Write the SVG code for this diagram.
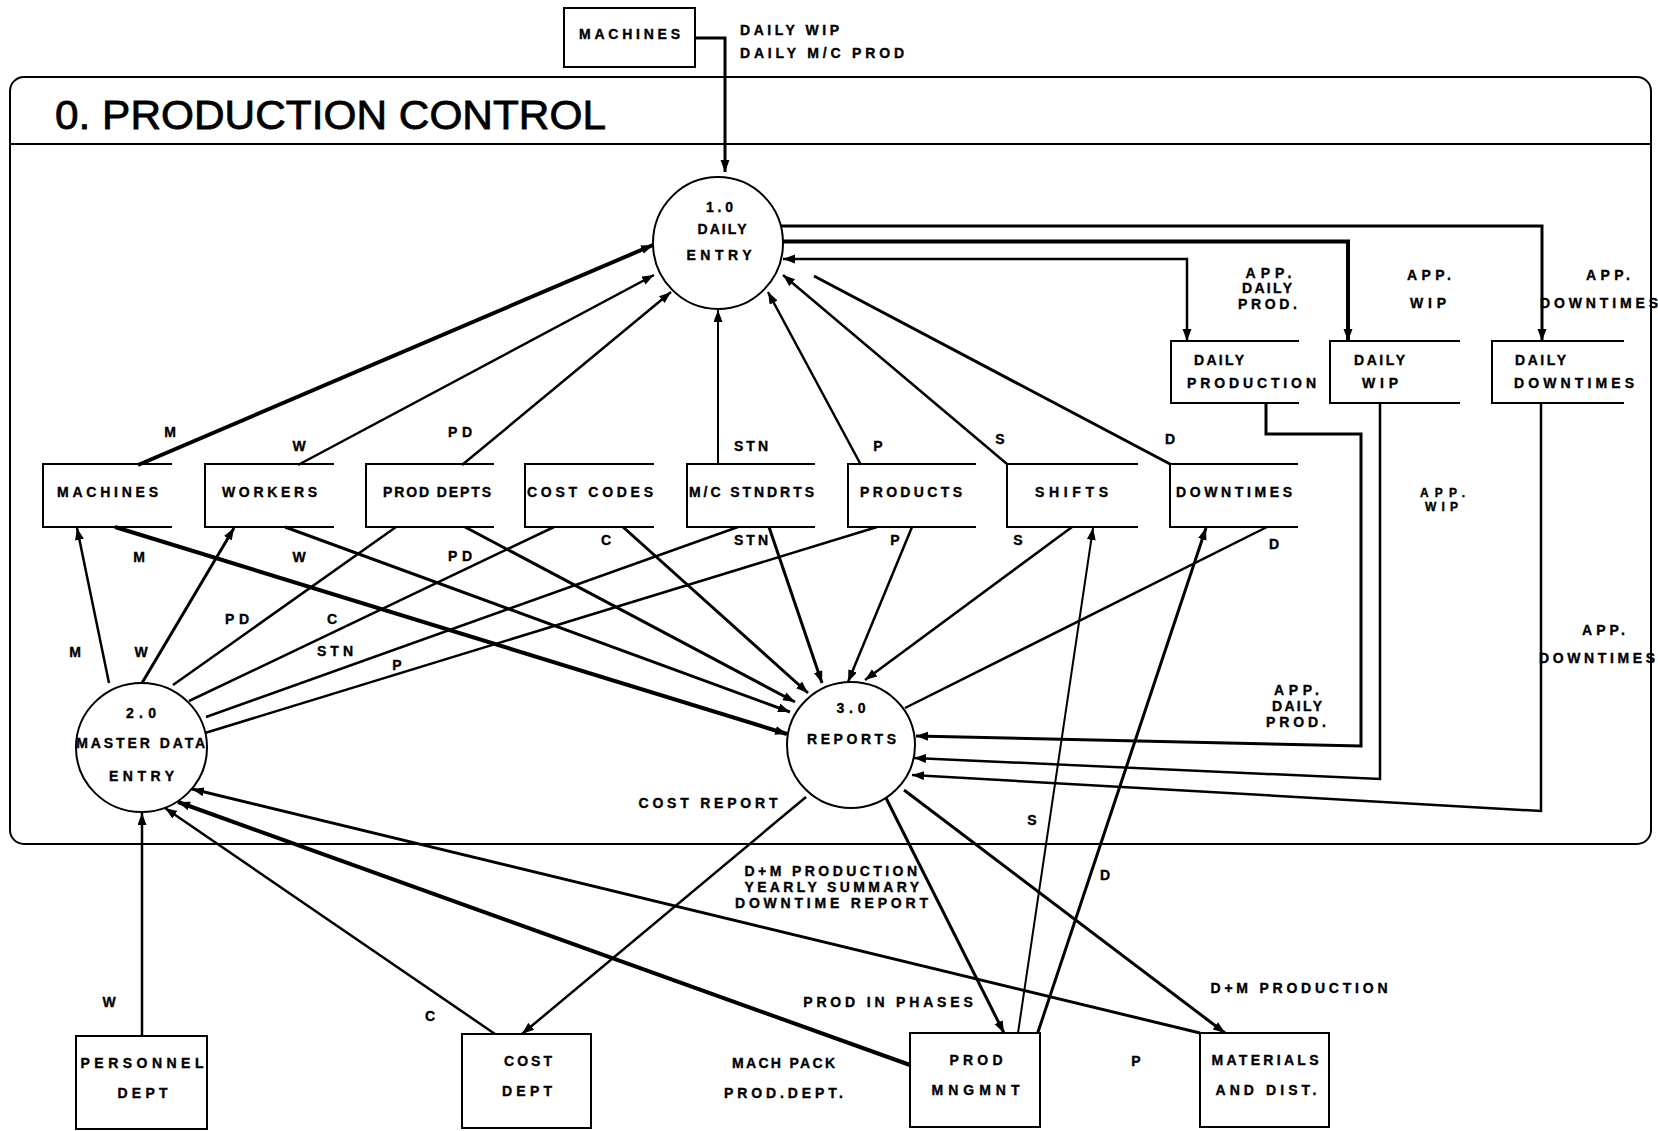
<svg xmlns="http://www.w3.org/2000/svg" width="1658" height="1131" viewBox="0 0 1658 1131">
  <style>
    .ln { fill: none; stroke: #000; stroke-linejoin: miter; stroke-linecap: butt; }
    .w2 { stroke-width: 2; }
    .w25 { stroke-width: 2.5; }
    .w3 { stroke-width: 3; }
    .w4 { stroke-width: 4; }
    .shape { fill: #fff; stroke: #000; stroke-width: 2; }
    .store { fill: none; stroke: #000; stroke-width: 2; }
    .t { font-family: "Liberation Sans", Arial, Helvetica, sans-serif; font-weight: bold; font-size: 14px; fill: #000; stroke: #000; stroke-width: 0.35; }
    .m { text-anchor: middle; }
    .sm { font-size: 12px; }
    .title { font-family: "Liberation Sans", Arial, Helvetica, sans-serif; font-size: 41px; fill: #000; stroke: #000; stroke-width: 0.8; }
  </style>
  <defs>
    <marker id="ah" markerUnits="userSpaceOnUse" markerWidth="14" markerHeight="10" refX="12" refY="4.5" orient="auto-start-reverse">
      <path d="M0,0 L12,4.5 L0,9 z" fill="#000"/>
    </marker>
  </defs>

  <rect width="1658" height="1131" fill="#fff"/>

  <!-- system boundary with title bar -->
  <g id="frame">
    <rect x="10" y="77" width="1641" height="767" rx="14" ry="14" fill="none" stroke="#000" stroke-width="2"/>
    <line x1="10" y1="144" x2="1651" y2="144" stroke="#000" stroke-width="2"/>
    <text class="title" x="55" y="129" textLength="551" lengthAdjust="spacingAndGlyphs">0. PRODUCTION CONTROL</text>
  </g>

  <g id="connectors">
    <!-- into 1.0 DAILY ENTRY -->
    <path class="ln w3" d="M695,38 H725 V172" marker-end="url(#ah)"/>
    <path class="ln w4" d="M138,465 L653,245" marker-end="url(#ah)"/>
    <path class="ln w25" d="M298,465 L654,275" marker-end="url(#ah)"/>
    <path class="ln w25" d="M462,465 L671,292" marker-end="url(#ah)"/>
    <path class="ln w2" d="M718,465 L718,310" marker-end="url(#ah)"/>
    <path class="ln w25" d="M861,465 L768,292" marker-end="url(#ah)"/>
    <path class="ln w25" d="M1007,464 L783,275" marker-end="url(#ah)"/>
    <path class="ln w3" d="M1170,464 L814,276"/>
    <!-- 1.0 to daily stores -->
    <path class="ln w3" d="M781,226 H1542 V341" marker-end="url(#ah)"/>
    <path class="ln w4" d="M783,241.5 H1348 V341" marker-end="url(#ah)"/>
    <path class="ln w25" d="M1187,341 V259 H783" marker-start="url(#ah)" marker-end="url(#ah)"/>
    <!-- stores into 3.0 REPORTS -->
    <path class="ln w4" d="M115,527 L787,734" marker-end="url(#ah)"/>
    <path class="ln w3" d="M285,527 L790,712" marker-end="url(#ah)"/>
    <path class="ln w3" d="M465,527 L795,702" marker-end="url(#ah)"/>
    <path class="ln w3" d="M623,527 L808,693" marker-end="url(#ah)"/>
    <path class="ln w3" d="M769,527 L822,683" marker-end="url(#ah)"/>
    <path class="ln w25" d="M912,527 L848,682" marker-end="url(#ah)"/>
    <path class="ln w25" d="M1072,527 L865,680" marker-end="url(#ah)"/>
    <path class="ln w25" d="M1267,527 L905,708"/>
    <!-- daily stores into 3.0 REPORTS -->
    <path class="ln w3" d="M1266,403 V434 H1361 V746 L916,736" marker-end="url(#ah)"/>
    <path class="ln w25" d="M1380,403 V779 L914,758" marker-end="url(#ah)"/>
    <path class="ln w25" d="M1541,403 V811 L912,775" marker-end="url(#ah)"/>
    <!-- 2.0 MASTER DATA ENTRY to master stores -->
    <path class="ln w25" d="M109,683 L77,528" marker-end="url(#ah)"/>
    <path class="ln w3" d="M142,683 L234,528" marker-end="url(#ah)"/>
    <path class="ln w25" d="M173,685 L396,527"/>
    <path class="ln w25" d="M189,701 L554,527"/>
    <path class="ln w25" d="M206,717 L738,527"/>
    <path class="ln w25" d="M205,733 L877,527"/>
    <!-- externals into 2.0 -->
    <path class="ln w25" d="M142,1036 L142,813" marker-end="url(#ah)"/>
    <path class="ln w25" d="M495,1034 L165,808" marker-end="url(#ah)"/>
    <path class="ln w4" d="M910,1065 L178,802" marker-end="url(#ah)"/>
    <path class="ln w3" d="M1200,1033 L192,789" marker-end="url(#ah)"/>
    <!-- 3.0 REPORTS to externals -->
    <path class="ln w25" d="M806,797 L522,1034" marker-end="url(#ah)"/>
    <path class="ln w3" d="M885,796 L1004,1033" marker-end="url(#ah)"/>
    <path class="ln w3" d="M904,790 L1225,1033" marker-end="url(#ah)"/>
    <!-- PROD MNGMNT to shift / downtime stores -->
    <path class="ln w2" d="M1018,1033 L1093,528" marker-end="url(#ah)"/>
    <path class="ln w3" d="M1037,1035 L1206,528" marker-end="url(#ah)"/>
  </g>

  <!-- flow labels -->
  <g id="flow-labels" class="t">
    <text x="740" y="34.5" textLength="99" lengthAdjust="spacing">DAILY WIP</text>
    <text x="740" y="57.5" textLength="164" lengthAdjust="spacing">DAILY M/C PROD</text>

    <text class="m" x="170" y="437">M</text>
    <text class="m" x="299" y="451">W</text>
    <text class="m" x="460" y="437" textLength="24" lengthAdjust="spacing">PD</text>
    <text class="m" x="751" y="451" textLength="34" lengthAdjust="spacing">STN</text>
    <text class="m" x="878" y="451">P</text>
    <text class="m" x="1000" y="444">S</text>
    <text class="m" x="1170" y="444">D</text>

    <text class="m" x="139" y="562">M</text>
    <text class="m" x="299" y="562">W</text>
    <text class="m" x="460" y="561" textLength="24" lengthAdjust="spacing">PD</text>
    <text class="m" x="606" y="545">C</text>
    <text class="m" x="751" y="545" textLength="34" lengthAdjust="spacing">STN</text>
    <text class="m" x="895" y="545">P</text>
    <text class="m" x="1018" y="545">S</text>
    <text class="m" x="1274" y="549">D</text>

    <text class="m" x="75" y="657">M</text>
    <text class="m" x="141" y="657">W</text>
    <text class="m" x="237" y="624" textLength="24" lengthAdjust="spacing">PD</text>
    <text class="m" x="332" y="624">C</text>
    <text class="m" x="335" y="656" textLength="36" lengthAdjust="spacing">STN</text>
    <text class="m" x="397" y="670">P</text>

    <text class="m" x="1268.5" y="278" textLength="46" lengthAdjust="spacing">APP.</text>
    <text class="m" x="1267" y="293" textLength="50" lengthAdjust="spacing">DAILY</text>
    <text class="m" x="1267.5" y="309" textLength="59" lengthAdjust="spacing">PROD.</text>
    <text class="m" x="1429" y="280" textLength="44" lengthAdjust="spacing">APP.</text>
    <text class="m" x="1428" y="308" textLength="36" lengthAdjust="spacing">WIP</text>
    <text class="m" x="1608" y="280" textLength="44" lengthAdjust="spacing">APP.</text>
    <text x="1540" y="308" textLength="118" lengthAdjust="spacing">DOWNTIMES</text>

    <text class="m sm" x="1442.5" y="497" textLength="45" lengthAdjust="spacing">APP.</text>
    <text class="m sm" x="1441.5" y="511" textLength="33" lengthAdjust="spacing">WIP</text>

    <text class="m" x="1603.5" y="635" textLength="43" lengthAdjust="spacing">APP.</text>
    <text x="1539" y="663" textLength="116" lengthAdjust="spacing">DOWNTIMES</text>

    <text class="m" x="1296.5" y="695" textLength="45" lengthAdjust="spacing">APP.</text>
    <text class="m" x="1297" y="711" textLength="50" lengthAdjust="spacing">DAILY</text>
    <text class="m" x="1296" y="727" textLength="60" lengthAdjust="spacing">PROD.</text>

    <text class="m" x="708" y="807.5" textLength="139" lengthAdjust="spacing">COST REPORT</text>
    <text x="744.5" y="876" textLength="172.5" lengthAdjust="spacing">D+M PRODUCTION</text>
    <text x="744.5" y="892" textLength="174.5" lengthAdjust="spacing">YEARLY SUMMARY</text>
    <text x="735" y="908" textLength="193" lengthAdjust="spacing">DOWNTIME REPORT</text>

    <text class="m" x="1032" y="825">S</text>
    <text class="m" x="1105" y="880">D</text>
    <text class="m" x="109" y="1007">W</text>
    <text class="m" x="430" y="1021">C</text>
    <text class="m" x="888" y="1007" textLength="169.5" lengthAdjust="spacing">PROD IN PHASES</text>
    <text class="m" x="1299" y="993" textLength="177" lengthAdjust="spacing">D+M PRODUCTION</text>
    <text class="m" x="783.5" y="1068" textLength="103" lengthAdjust="spacing">MACH PACK</text>
    <text class="m" x="783.5" y="1098" textLength="119" lengthAdjust="spacing">PROD.DEPT.</text>
    <text class="m" x="1136" y="1066">P</text>
  </g>

  <!-- external entities -->
  <g id="ext-machines">
    <rect class="shape" x="564" y="8" width="131" height="59"/>
    <text class="t m" x="629.5" y="39" textLength="101" lengthAdjust="spacing">MACHINES</text>
  </g>
  <g id="ext-personnel">
    <rect class="shape" x="76" y="1036" width="131" height="93"/>
    <text class="t m" x="142" y="1068" textLength="123" lengthAdjust="spacing">PERSONNEL</text>
    <text class="t m" x="142.5" y="1098" textLength="50" lengthAdjust="spacing">DEPT</text>
  </g>
  <g id="ext-cost-dept">
    <rect class="shape" x="462" y="1034" width="129" height="94"/>
    <text class="t m" x="528" y="1065.5" textLength="48" lengthAdjust="spacing">COST</text>
    <text class="t m" x="527" y="1095.5" textLength="50" lengthAdjust="spacing">DEPT</text>
  </g>
  <g id="ext-prod-mngmnt">
    <rect class="shape" x="910" y="1033" width="130" height="94"/>
    <text class="t m" x="976" y="1065" textLength="53" lengthAdjust="spacing">PROD</text>
    <text class="t m" x="975.5" y="1095" textLength="88" lengthAdjust="spacing">MNGMNT</text>
  </g>
  <g id="ext-materials">
    <rect class="shape" x="1200" y="1033" width="129" height="94"/>
    <text class="t m" x="1265" y="1065" textLength="107" lengthAdjust="spacing">MATERIALS</text>
    <text class="t m" x="1266" y="1095" textLength="101" lengthAdjust="spacing">AND DIST.</text>
  </g>

  <!-- processes -->
  <g id="proc-1-daily-entry">
    <ellipse class="shape" cx="718" cy="243" rx="65" ry="66"/>
    <text class="t m" x="719.5" y="211.5" textLength="27" lengthAdjust="spacing">1.0</text>
    <text class="t m" x="722" y="234" textLength="49" lengthAdjust="spacing">DAILY</text>
    <text class="t m" x="719" y="260" textLength="65" lengthAdjust="spacing">ENTRY</text>
  </g>
  <g id="proc-2-master-data">
    <ellipse class="shape" cx="141.5" cy="747.5" rx="65.5" ry="64.5"/>
    <text class="t m" x="141" y="718" textLength="30" lengthAdjust="spacing">2.0</text>
    <text class="t m" x="140.7" y="748" textLength="129" lengthAdjust="spacing">MASTER DATA</text>
    <text class="t m" x="141.5" y="781" textLength="65" lengthAdjust="spacing">ENTRY</text>
  </g>
  <g id="proc-3-reports">
    <ellipse class="shape" cx="851" cy="745" rx="64" ry="63"/>
    <text class="t m" x="851" y="713" textLength="29" lengthAdjust="spacing">3.0</text>
    <text class="t m" x="851.5" y="744" textLength="89" lengthAdjust="spacing">REPORTS</text>
  </g>

  <!-- master data stores (open-ended) -->
  <g id="store-machines">
    <path class="store" d="M172,464 H43 V527 H172"/>
    <text class="t m" x="107.5" y="497" textLength="101" lengthAdjust="spacing">MACHINES</text>
  </g>
  <g id="store-workers">
    <path class="store" d="M334,464 H205 V527 H334"/>
    <text class="t m" x="269.5" y="497" textLength="95" lengthAdjust="spacing">WORKERS</text>
  </g>
  <g id="store-prod-depts">
    <path class="store" d="M494,464 H366 V527 H494"/>
    <text class="t m" x="437" y="497" textLength="108" lengthAdjust="spacing">PROD DEPTS</text>
  </g>
  <g id="store-cost-codes">
    <path class="store" d="M654,464 H525 V527 H654"/>
    <text class="t m" x="590" y="497" textLength="126" lengthAdjust="spacing">COST CODES</text>
  </g>
  <g id="store-mc-stndrts">
    <path class="store" d="M815,464 H687 V527 H815"/>
    <text class="t m" x="751.5" y="497" textLength="125" lengthAdjust="spacing">M/C STNDRTS</text>
  </g>
  <g id="store-products">
    <path class="store" d="M976,464 H848 V527 H976"/>
    <text class="t m" x="911" y="497" textLength="102" lengthAdjust="spacing">PRODUCTS</text>
  </g>
  <g id="store-shifts">
    <path class="store" d="M1138,464 H1007 V527 H1138"/>
    <text class="t m" x="1071.5" y="497" textLength="73" lengthAdjust="spacing">SHIFTS</text>
  </g>
  <g id="store-downtimes">
    <path class="store" d="M1298,464 H1170 V527 H1298"/>
    <text class="t m" x="1234" y="497" textLength="116" lengthAdjust="spacing">DOWNTIMES</text>
  </g>

  <!-- daily transaction stores -->
  <g id="store-daily-production">
    <path class="store" d="M1299,341 H1171 V403 H1299"/>
    <text class="t m" x="1219" y="365" textLength="50" lengthAdjust="spacing">DAILY</text>
    <text class="t m" x="1251.5" y="388" textLength="129" lengthAdjust="spacing">PRODUCTION</text>
  </g>
  <g id="store-daily-wip">
    <path class="store" d="M1460,341 H1330 V403 H1460"/>
    <text class="t m" x="1379.5" y="365" textLength="51" lengthAdjust="spacing">DAILY</text>
    <text class="t m" x="1380" y="388" textLength="36" lengthAdjust="spacing">WIP</text>
  </g>
  <g id="store-daily-downtimes">
    <path class="store" d="M1624,341 H1492 V403 H1624"/>
    <text class="t m" x="1540.5" y="365" textLength="51" lengthAdjust="spacing">DAILY</text>
    <text class="t m" x="1574" y="388" textLength="120" lengthAdjust="spacing">DOWNTIMES</text>
  </g>
</svg>
